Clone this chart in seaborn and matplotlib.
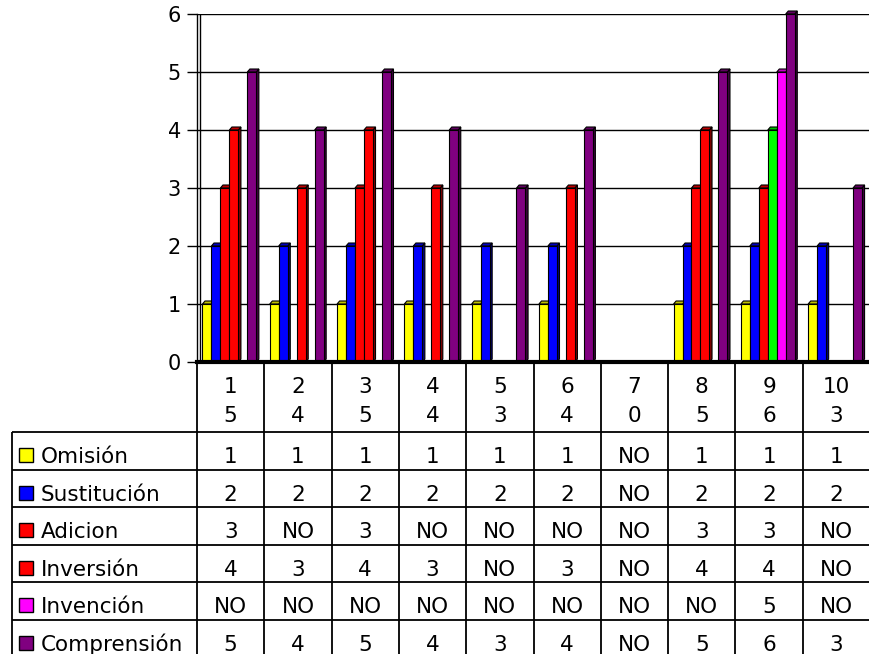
import numpy as np
import pandas as pd
import matplotlib
matplotlib.use("Agg")
import matplotlib.pyplot as plt
import seaborn as sns
from matplotlib.patches import Polygon, Rectangle
from matplotlib.colors import to_rgb

# ---------------- data ----------------
categories = ["1\n5", "2\n4", "3\n5", "4\n4", "5\n3", "6\n4", "7\n0", "8\n5", "9\n6", "10\n3"]
series = ["Omisión", "Sustitución", "Adicion", "Inversión", "Invención", "Comprensión"]
omision = [1, 1, 1, 1, 1, 1, None, 1, 1, 1]
sustitucion = [2, 2, 2, 2, 2, 2, None, 2, 2, 2]
adicion = [3, None, 3, None, None, None, None, 3, 3, None]
inversion = [4, 3, 4, 3, None, 3, None, 4, 4, None]
invencion = [None, None, None, None, None, None, None, None, 5, None]
comprension = [5, 4, 5, 4, 3, 4, None, 5, 6, 3]
series_values = [omision, sustitucion, adicion, inversion, invencion, comprension]
series_colors = ["#FFFF00", "#0000FF", "#FF0000", "#FF0000", "#FF00FF", "#800080"]
point_colors = {("Inversión", "9\n6"): "#00FF00"}
y_ticks = [0, 1, 2, 3, 4, 5, 6]
missing_label = "NO"

rows = []
for s, vals in zip(series, series_values):
    for c, v in zip(categories, vals):
        rows.append({"category": c, "series": s, "value": 0 if v is None else v})
df = pd.DataFrame(rows)

# ---------------- style ----------------
sns.set_style("white")
plt.rcParams["font.family"] = ["DejaVu Sans"]

W, H = 870, 654
fig = plt.figure(figsize=(W / 100, H / 100), dpi=100)

ax_left, ax_right, ax_top, ax_bottom = 197, 870, 14, 362
ax = fig.add_axes([ax_left / W, (H - ax_bottom) / H, (ax_right - ax_left) / W, (ax_bottom - ax_top) / H])

sns.barplot(data=df, x="category", y="value", hue="series", order=categories,
            hue_order=series, palette=series_colors, errorbar=None, width=0.8,
            saturation=1, edgecolor="black", linewidth=0.8, legend=False, ax=ax)

ax.set_xlim(-0.5, len(categories) - 0.5)
ax.set_ylim(0, max(y_ticks))
ax.set_yticks(y_ticks)
ax.set_xticks([])
ax.set_xlabel("")
ax.set_ylabel("")
ax.set_axisbelow(True)
ax.yaxis.grid(True, color="black", lw=1)
ax.xaxis.grid(False)
for sp in ["top", "right"]:
    ax.spines[sp].set_visible(False)
ax.spines["left"].set_color("black")
ax.spines["left"].set_linewidth(1)
ax.spines["bottom"].set_color("black")
ax.spines["bottom"].set_linewidth(3)
ax.spines["bottom"].set_zorder(10)
ax.tick_params(axis="y", length=7.5, width=1, pad=4, labelsize=15, color="black", labelcolor="black", left=True)

px_per_x = (ax_right - ax_left) / len(categories)
px_per_y = (ax_bottom - ax_top) / max(y_ticks)
dx = 2.6 / px_per_x
dy = 3.0 / px_per_y

# back-wall edge line
ax.axvline(-0.5 + dx, color="black", lw=1, zorder=2)


def shade(col, f):
    r, g, b = to_rgb(col)
    return (r * f, g * f, b * f)


for i, (s, cont) in enumerate(zip(series, ax.containers)):
    for j, bar in enumerate(cont):
        h = bar.get_height()
        if not h:
            bar.set_visible(False)
            continue
        col = point_colors.get((s, categories[j]), series_colors[i])
        bar.set_facecolor(col)
        bar.set_x(bar.get_x() - dx / 2)
        x0 = bar.get_x()
        x1 = x0 + bar.get_width()
        z = 3 + j * 0.1 + i * 0.01
        bar.set_zorder(z + 0.005)
        bar.set_clip_on(False)
        side = Polygon([(x1, 0), (x1 + dx, dy), (x1 + dx, h + dy), (x1, h)], closed=True,
                       facecolor=shade(col, 0.5), edgecolor="black", lw=0.8, zorder=z, clip_on=False)
        top = Polygon([(x0, h), (x1, h), (x1 + dx, h + dy), (x0 + dx, h + dy)], closed=True,
                      facecolor=shade(col, 0.75), edgecolor="black", lw=0.8, zorder=z, clip_on=False)
        ax.add_patch(side)
        ax.add_patch(top)

# ---------------- data table ----------------
tax = fig.add_axes([0, 0, 1, (H - ax_bottom) / H])
tax.set_xlim(-0.5 - ax_left / px_per_x, len(categories) - 0.5)
tax.set_ylim(H, ax_bottom)
tax.axis("off")


def xd(xp):
    return -0.5 + (xp - ax_left) / px_per_x


table_left = 12
header_bottom = 432
row_h = 37.6
n_rows = len(series)
row_tops = [header_bottom + row_h * k for k in range(n_rows)]
fs = 15.5
line_kw = dict(color="black", lw=1.3, solid_capstyle="butt")

# vertical lines between categories
for k in range(len(categories) + 1):
    tax.plot([k - 0.5, k - 0.5], [ax_bottom, H + 5], **line_kw)
tax.plot([xd(table_left), xd(table_left)], [header_bottom, H + 5], **line_kw)
for yt in row_tops:
    tax.plot([xd(table_left), len(categories) - 0.5], [yt, yt], **line_kw)

# header labels
for j, c in enumerate(categories):
    top_line, bottom_line = c.split("\n")
    tax.text(j, 393, top_line, ha="center", va="baseline", fontsize=fs, color="black")
    tax.text(j, 421.7, bottom_line, ha="center", va="baseline", fontsize=fs, color="black")

# rows
for i, (s, vals) in enumerate(zip(series, series_values)):
    yt = row_tops[i]
    base = yt + 31
    tax.add_patch(Rectangle((xd(19), yt + 16), 14 / px_per_x, 14, facecolor=series_colors[i],
                            edgecolor="black", lw=1))
    tax.text(xd(41), base, s, ha="left", va="baseline", fontsize=fs, color="black")
    for j, v in enumerate(vals):
        txt = missing_label if v is None else str(v)
        tax.text(j, base, txt, ha="center", va="baseline", fontsize=fs, color="black")

fig.savefig("out.png", dpi=100)
